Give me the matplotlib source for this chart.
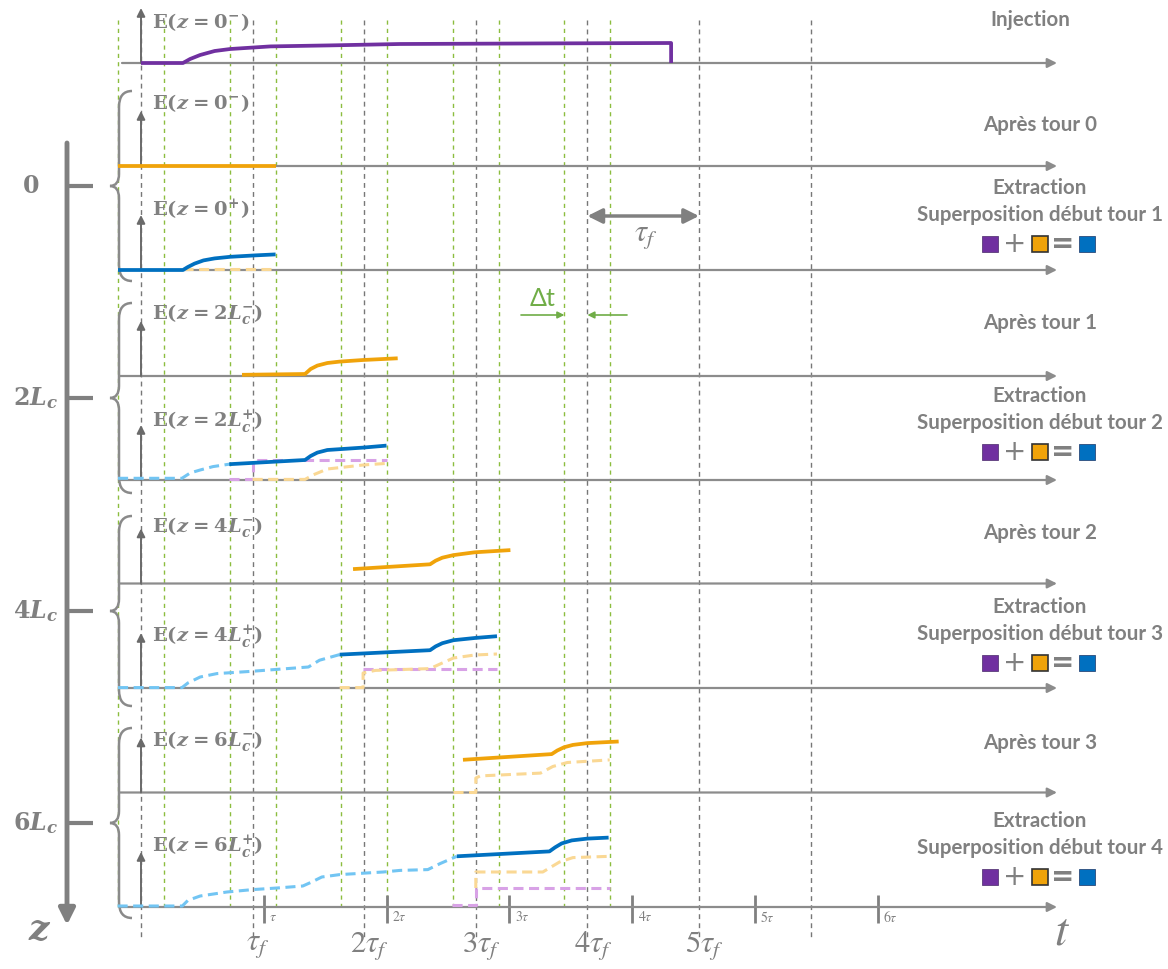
import matplotlib
matplotlib.use('Agg')

import matplotlib.pyplot as plt
from matplotlib.path import Path
from matplotlib.patches import PathPatch, Rectangle

plt.rcParams['mathtext.fontset'] = 'custom'
plt.rcParams['mathtext.rm'] = 'STIXGeneral'
plt.rcParams['mathtext.it'] = 'STIXGeneral:italic'
plt.rcParams['mathtext.bf'] = 'DejaVu Serif:bold'
plt.rcParams['mathtext.bfit'] = 'DejaVu Serif:bold:italic'
plt.rcParams['mathtext.fallback'] = 'stix'

# canvas in pixels, t=0 at x=141 px, one tau_f = 111.6 px
W, H = 1168, 969
T0_PX, TF_PX = 141, 111.6
XLIM = (-T0_PX / TF_PX, (W - T0_PX) / TF_PX)

# baseline (px) of each time axis, top to bottom
row_y = [63, 166, 270, 376, 480, 583.5, 688, 792.5, 907]
label_y = [22, 103, 210, 315, 422, 528, 637, 742, 847]
z_parts = ['0^{-}', '0^{-}', '0^{+}', '2L^{-}', '2L^{+}', '4L^{-}', '4L^{+}', '6L^{-}', '6L^{+}']

# time marks (units of tau_f)
tf_marks = [0, 1, 2, 3, 4, 5, 6]
green_marks = [0, 1, 2, 3, 4]
dt = 0.206
tau = 1.1
tau_ticks = [1, 2, 3, 4, 5, 6]

# --- curves: t in tau_f, e in arbitrary units (1 unit = 20 px) ---
# injection
inj_t = [0, 0.376, 0.44, 0.53, 0.66, 0.80, 1.16, 1.69, 2.32, 3.66, 4.75, 4.75]
inj_e = [0, 0, 0.2, 0.4, 0.6, 0.7, 0.83, 0.88, 0.95, 0.98, 1.0, 0]
# apres tour 0
a0_t = [-0.206, 1.206]
a0_e = [0, 0]
# extraction 1
x1_blue_t = [-0.206, 0.376, 0.42, 0.48, 0.56, 0.66, 0.80, 1.02, 1.206]
x1_blue_e = [0, 0, 0.15, 0.32, 0.48, 0.58, 0.66, 0.73, 0.78]
x1_or_t = [0.376, 1.206]
x1_or_e = [0.05, 0.05]
# apres tour 1
a1_t = [0.905, 1.47, 1.52, 1.58, 1.67, 1.78, 1.99, 2.30]
a1_e = [0.06, 0.1, 0.35, 0.52, 0.65, 0.72, 0.8, 0.885]
# extraction 2
x2_lb_t = [-0.206, 0.367, 0.44, 0.53, 0.645, 0.79]
x2_lb_e = [0.085, 0.085, 0.35, 0.5, 0.67, 0.79]
x2_blue_t = [0.79, 1.47, 1.52, 1.58, 1.67, 1.99, 2.20]
x2_blue_e = [0.79, 1.0, 1.2, 1.37, 1.5, 1.62, 1.72]
x2_pu_t = [0.79, 1.0, 1.0, 2.2]
x2_pu_e = [0.03, 0.03, 1.0, 1.0]
x2_or_t = [1.0, 1.47, 1.54, 1.67, 1.99, 2.20]
x2_or_e = [0.03, 0.03, 0.25, 0.55, 0.75, 0.83]
# apres tour 2
a2_t = [1.90, 2.59, 2.64, 2.70, 2.80, 2.99, 3.31]
a2_e = [0.72, 0.96, 1.14, 1.29, 1.42, 1.56, 1.67]
# extraction 3
x3_lb_t = [-0.206, 0.367, 0.42, 0.53, 0.68, 0.98, 1.31, 1.50, 1.60, 1.78]
x3_lb_e = [0.02, 0.02, 0.25, 0.55, 0.72, 0.83, 0.97, 1.05, 1.39, 1.67]
x3_blue_t = [1.78, 2.59, 2.64, 2.70, 2.80, 2.99, 3.19]
x3_blue_e = [1.67, 1.89, 2.08, 2.24, 2.39, 2.5, 2.59]
x3_or_t = [1.78, 1.99, 1.99, 2.1, 2.59, 2.68, 2.80, 2.99, 3.19]
x3_or_e = [0.02, 0.02, 0.75, 0.88, 0.97, 1.2, 1.5, 1.65, 1.7]
x3_pu_t = [1.99, 3.19]
x3_pu_e = [0.97, 0.97]
# apres tour 3
a3_t = [2.885, 3.68, 3.73, 3.79, 3.87, 4.0, 4.28]
a3_e = [1.635, 1.92, 2.1, 2.26, 2.38, 2.47, 2.55]
a3_or_t = [2.80, 3.0, 3.0, 3.04, 3.58, 3.69, 3.82, 4.2]
a3_or_e = [0, 0, 0.72, 0.83, 0.97, 1.3, 1.5, 1.63]
# extraction 4
x4_lb_t = [-0.21, 0.37, 0.42, 0.53, 0.77, 1.0, 1.22, 1.45, 1.53, 1.62, 1.78, 2.17, 2.32, 2.57, 2.68, 2.83]
x4_lb_e = [0.05, 0.05, 0.33, 0.55, 0.75, 0.87, 0.95, 1.05, 1.25, 1.5, 1.62, 1.75, 1.83, 1.87, 2.17, 2.535]
x4_blue_t = [2.83, 3.66, 3.71, 3.77, 3.86, 4.0, 4.19]
x4_blue_e = [2.535, 2.78, 2.98, 3.18, 3.33, 3.42, 3.47]
x4_or_t = [3.0, 3.0, 3.6, 3.75, 3.87, 4.18]
x4_or_e = [0.95, 1.75, 1.75, 2.25, 2.47, 2.53]
x4_pu_t = [2.79, 3.0, 3.0, 4.2]
x4_pu_e = [0.08, 0.08, 0.95, 0.95]

PURPLE, ORANGE, BLUE = '#7030a0', '#f0a30a', '#0070c0'
LBLUE, LORANGE, LPURPLE = '#72c5f3', '#fad894', '#d8a2e6'
GRAY, DGRAY, GREEN = '#808080', '#6a6a6a', '#8cbd3f'

solid = dict(lw=2.7, ls='-')
dash = dict(lw=2.2, ls=(0, (3.3, 1.8)))

# (row, t, e, colour, style) -- dashed drawn first
curves = [
    (0, inj_t, inj_e, PURPLE, solid),
    (1, a0_t, a0_e, ORANGE, solid),
    (2, x1_or_t, x1_or_e, LORANGE, dash),
    (2, x1_blue_t, x1_blue_e, BLUE, solid),
    (3, a1_t, a1_e, ORANGE, solid),
    (4, x2_lb_t, x2_lb_e, LBLUE, dash),
    (4, x2_pu_t, x2_pu_e, LPURPLE, dash),
    (4, x2_or_t, x2_or_e, LORANGE, dash),
    (4, x2_blue_t, x2_blue_e, BLUE, solid),
    (5, a2_t, a2_e, ORANGE, solid),
    (6, x3_lb_t, x3_lb_e, LBLUE, dash),
    (6, x3_pu_t, x3_pu_e, LPURPLE, dash),
    (6, x3_or_t, x3_or_e, LORANGE, dash),
    (6, x3_blue_t, x3_blue_e, BLUE, solid),
    (7, a3_or_t, a3_or_e, LORANGE, dash),
    (7, a3_t, a3_e, ORANGE, solid),
    (8, x4_lb_t, x4_lb_e, LBLUE, dash),
    (8, x4_pu_t, x4_pu_e, LPURPLE, dash),
    (8, x4_or_t, x4_or_e, LORANGE, dash),
    (8, x4_blue_t, x4_blue_e, BLUE, solid),
]

fig = plt.figure(figsize=(W / 100, H / 100), dpi=100)

# background: x in tau_f, y in pixels
bg = fig.add_axes([0, 0, 1, 1])
bg.set_xlim(*XLIM)
bg.set_ylim(H, 0)
bg.axis('off')

for k in tf_marks:
    bg.vlines(k, 20, 940, colors='#777777', lw=1, linestyles=(0, (3.5, 3)))
for k in green_marks:
    for s in (-dt, dt):
        bg.vlines(k + s, 20, 907, colors=GREEN, lw=1, linestyles=(0, (3, 3)))

for k in tau_ticks:
    bg.vlines(k * tau, 895, 923, colors=GRAY, lw=2)
    lab = r'$\tau$' if k == 1 else r'$%d\tau$' % k
    bg.text(k * tau + 0.05, 917, lab, fontsize=10, color=GRAY, ha='left', va='center')

for k in tf_marks[1:6]:
    lab = r'$\tau_f$' if k == 1 else r'$%d\tau_f$' % k
    bg.text(k + 0.05, 946, lab, fontsize=22, color=GRAY, ha='center', va='center')

# tau_f arrow and delta t
bg.annotate('', xy=(5, 216), xytext=(4, 216),
            arrowprops=dict(arrowstyle='<|-|>', lw=2.5, color=GRAY, mutation_scale=22,
                            shrinkA=0, shrinkB=0))
bg.text(4.52, 236, r'$\tau_f$', fontsize=22, color=GRAY, ha='center', va='center')
bg.annotate('', xy=(4 - dt, 315), xytext=(3.405, 315),
            arrowprops=dict(arrowstyle='-|>', lw=1.2, color='#70ad47', mutation_scale=10,
                            shrinkA=0, shrinkB=0))
bg.annotate('', xy=(4.0, 315), xytext=(4.355, 315),
            arrowprops=dict(arrowstyle='-|>', lw=1.2, color='#70ad47', mutation_scale=10,
                            shrinkA=0, shrinkB=0))
bg.text(3.6, 299, 'Δt', fontsize=18, color='#70ad47', ha='center', va='center', family='Lato')

# overlay in pixels
ov = fig.add_axes([0, 0, 1, 1])
ov.set_xlim(0, W)
ov.set_ylim(H, 0)
ov.axis('off')
ov.patch.set_alpha(0)

for i, y in enumerate(row_y):
    x0 = 122 if i == 0 else 120
    ov.annotate('', xy=(1057, y), xytext=(x0, y),
                arrowprops=dict(arrowstyle='-|>', lw=1.6, color='#8c8c8c', mutation_scale=14,
                                shrinkA=0, shrinkB=0))
    top = 8 if i == 0 else y - 55
    ov.annotate('', xy=(141, top), xytext=(141, y),
                arrowprops=dict(arrowstyle='-|>', lw=1.4, color=DGRAY, mutation_scale=12,
                                shrinkA=0, shrinkB=0))
    zp = z_parts[i]
    if 'L' in zp:
        zp = r'\mathbf{%s}\mathbfit{L}_{\mathbfit{c}}^{\mathbf{%s}}' % (zp[0], zp[-2])
    else:
        zp = r'\mathbf{0}^{\mathbf{%s}}' % zp[-2]
    lab = r'$\mathbf{E(}\mathbfit{z}\,\mathbf{=}\,' + zp + r'\mathbf{)}$'
    ov.text(152, label_y[i], lab, fontsize=14, color=GRAY, ha='left', va='center')

# z axis
z_ticks_y = [186, 398, 611, 823]
z_labels = [r'$\mathbf{0}$', r'$\mathbf{2}\mathbfit{L}_{\mathbfit{c}}$',
            r'$\mathbf{4}\mathbfit{L}_{\mathbfit{c}}$', r'$\mathbf{6}\mathbfit{L}_{\mathbfit{c}}$']
ov.annotate('', xy=(67, 925), xytext=(67, 143),
            arrowprops=dict(arrowstyle='-|>', lw=3.5, color=GRAY, mutation_scale=24,
                            shrinkA=0, shrinkB=0))
for y, lab in zip(z_ticks_y, z_labels):
    ov.plot([67, 93], [y, y], color=GRAY, lw=3, solid_capstyle='butt')
    if lab == z_labels[0]:
        ov.text(31, y, lab, fontsize=17, color=GRAY, ha='center', va='center')
    else:
        ov.text(58, y, lab, fontsize=17, color=GRAY, ha='right', va='center')
ov.text(40, 930, r'$\mathbfit{z}$', fontsize=26, color=GRAY, ha='center', va='center')

# braces
for ym in z_ticks_y:
    y0, y1 = ym - 95, ym + 95
    xb, xt, xe = 119, 110, 132
    verts = [(xe, y0), (xb, y0), (xb, y0 + 16), (xb, ym - 12), (xb, ym), (xt, ym),
             (xb, ym), (xb, ym + 12), (xb, y1 - 16), (xb, y1), (xe, y1)]
    codes = [Path.MOVETO, Path.CURVE3, Path.CURVE3, Path.LINETO, Path.CURVE3, Path.CURVE3,
             Path.CURVE3, Path.CURVE3, Path.LINETO, Path.CURVE3, Path.CURVE3]
    ov.add_patch(PathPatch(Path(verts, codes), fill=False, ec='#8a8a8a', lw=1.8))

# right-hand captions
tf = dict(family='Lato', fontweight='bold', color=GRAY, fontsize=14.8, ha='center', va='center')
ov.text(1030, 20, 'Injection', **tf)
apres_y = [125, 323, 533, 743]
extr_y = [188, 396, 607, 821]
for n in range(4):
    ov.text(1040, apres_y[n], 'Après tour %d' % n, **tf)
    ov.text(1040, extr_y[n], 'Extraction', **tf)
    ov.text(1040, extr_y[n] + 27, 'Superposition début tour %d' % (n + 1), **tf)
    ys = extr_y[n] + 56
    ov.add_patch(Rectangle((982, ys - 8), 16, 16, fc=PURPLE, ec='#5a3a7a', lw=0.6))
    ov.add_patch(Rectangle((1032, ys - 8), 16, 16, fc=ORANGE, ec='#333333', lw=1.2))
    ov.add_patch(Rectangle((1079, ys - 8), 16, 16, fc=BLUE, ec='#2a4a7a', lw=0.6))
    ov.text(1015, ys, '+', fontsize=20, color=GRAY, ha='center', va='center')
    ov.text(1063, ys, '=', fontsize=20, color=GRAY, ha='center', va='center',
            fontweight='bold')

ov.text(1062, 932, r'$t$', fontsize=34, color=GRAY, ha='center', va='center')

# one axes per row for the curves
rows = []
for y in row_y:
    ax = fig.add_axes([0, (H - y) / H, 1, 80 / H])
    ax.set_xlim(*XLIM)
    ax.set_ylim(0, 4)
    ax.axis('off')
    ax.patch.set_alpha(0)
    rows.append(ax)

for r, t, e, c, st in curves:
    rows[r].plot(t, e, color=c, clip_on=False, solid_capstyle='butt', **st)

fig.savefig('out.png', dpi=100)
